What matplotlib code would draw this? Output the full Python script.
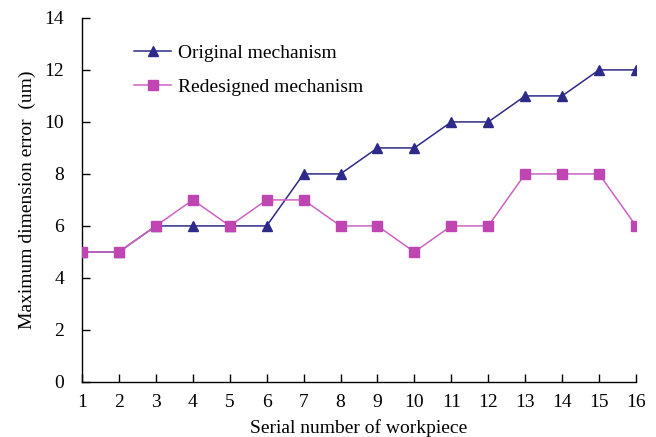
import matplotlib
matplotlib.use("Agg")
import matplotlib.pyplot as plt
from matplotlib.ticker import MultipleLocator

plt.rcParams['font.family'] = ['Liberation Serif', 'DejaVu Serif']

workpiece = list(range(1, 17))
original = [5, 5, 6, 6, 6, 6, 8, 8, 9, 9, 10, 10, 11, 11, 12, 12]
redesigned = [5, 5, 6, 7, 6, 7, 7, 6, 6, 5, 6, 6, 8, 8, 8, 6]

fig = plt.figure(figsize=(6.56, 4.37), dpi=100)
ax = fig.add_axes([0.125, 0.126, 0.8445, 0.833])

ax.plot(workpiece, original, color='#2E2A8A', lw=1.1, marker='^',
        markersize=7.5, markerfacecolor='#2E2A8A', markeredgecolor='#2E2A8A',
        label='Original mechanism', zorder=3)
ax.plot(workpiece, redesigned, color='#CD62C2', lw=1.1, marker='s',
        markersize=6.5, markerfacecolor='#BE45B2', markeredgecolor='#BE45B2',
        label='Redesigned mechanism', zorder=3)

ax.set_xlim(1, 16)
ax.set_ylim(0, 14)
ax.set_xticks(workpiece)
ax.yaxis.set_major_locator(MultipleLocator(2))
ax.tick_params(direction='in', length=6, width=1.0, labelsize=14)
ax.tick_params(axis='y', pad=13)
ax.tick_params(axis='x', pad=8.5)
ax.spines['top'].set_visible(False)
ax.spines['right'].set_visible(False)
for s in ('left', 'bottom'):
    ax.spines[s].set_linewidth(1.0)

ax.set_xlabel('Serial number of workpiece', fontsize=14, labelpad=6)
ax.set_ylabel('Maximum dimension error  (um)', fontsize=14, labelpad=6)

leg = ax.legend(loc='upper left', bbox_to_anchor=(0.077, 0.955), frameon=False,
                fontsize=14, handlelength=1.9, handletextpad=0.35,
                labelspacing=0.85, borderpad=0)

fig.savefig('out.png', dpi=100)
